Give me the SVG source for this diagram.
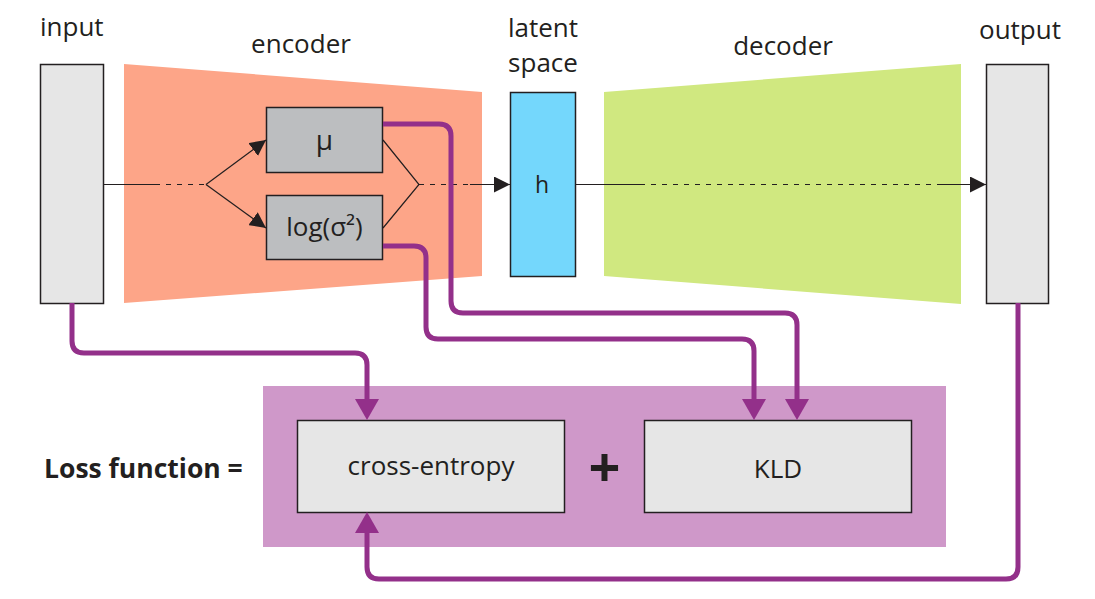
<svg xmlns="http://www.w3.org/2000/svg" width="1095" height="599" viewBox="0 0 1095 599">
<style>
text{font-family:"Open Sans","DejaVu Sans",sans-serif;fill:#231f20;font-size:26px}
.c{text-anchor:middle}
.box{stroke:#231f20;stroke-width:1.5}
.gray{fill:#e6e6e6}
.dark{fill:#bcbec0}
.ln{stroke:#231f20;stroke-width:1.2;fill:none}
.dash{stroke-dasharray:5 6}
.pp{stroke:#93308a;stroke-width:5;fill:none}
</style>
<defs>
<marker id="ab" markerUnits="userSpaceOnUse" markerWidth="16" markerHeight="16" refX="16" refY="8" orient="auto" viewBox="0 0 16 16"><path d="M0,0 L16,8 L0,16 z" fill="#231f20"/></marker>
<marker id="ap" markerUnits="userSpaceOnUse" markerWidth="21" markerHeight="24" refX="0" refY="12" orient="auto" viewBox="0 0 21 24"><path d="M0,0 L21,12 L0,24 z" fill="#93308a"/></marker>
</defs>
<rect width="1095" height="599" fill="#fff"/>
<g id="panel"><rect x="263" y="386" width="683" height="161" fill="#cf98c9"/></g>
<g id="encoder"><polygon points="124,64 482,92 482,276 124,303" fill="#fda588"/><text class="c" x="301" y="53">encoder</text></g>
<g id="decoder"><polygon points="604,92 961,64 961,304 604,276" fill="#d0e880"/><text class="c" x="783" y="55">decoder</text></g>
<g id="input"><rect class="box gray" x="40.5" y="64.5" width="63" height="239"/><text x="40" y="36">input</text></g>
<g id="output"><rect class="box gray" x="986.5" y="64.5" width="62" height="239"/><text class="c" x="1020" y="39">output</text></g>
<g id="latent"><rect class="box" x="510.5" y="92.5" width="65" height="184" fill="#74d7fc"/><text class="c" x="543" y="37">latent</text><text class="c" x="543" y="72">space</text><text class="c" x="542" y="193" style="font-size:23px">h</text></g>
<g id="mu"><rect class="box dark" x="266.5" y="107.5" width="116" height="65"/><text class="c" x="324.5" y="150" style="font-size:28px">μ</text></g>
<g id="logvar"><rect class="box dark" x="266.5" y="195.5" width="116" height="64"/><text class="c" x="324.5" y="236">log(σ²)</text></g>
<g id="crossentropy"><rect class="box gray" x="297.5" y="420.5" width="267" height="92"/><text class="c" x="431" y="475">cross-entropy</text></g>
<g id="kld"><rect class="box gray" x="644.5" y="420.5" width="267" height="92"/><text class="c" x="778" y="478">KLD</text></g>
<g id="plus"><text class="c" x="604.5" y="487" style="font-size:56px;font-weight:bold">+</text></g>
<g id="loss"><text x="44" y="478" style="font-weight:bold;font-size:26.5px">Loss function =</text></g>
<g id="connectors">
<path class="ln" d="M103,184.5 H155"/>
<path class="ln dash" d="M155,184.5 H206"/>
<path class="ln" d="M206,184.5 L266,140" marker-end="url(#ab)"/>
<path class="ln" d="M206,184.5 L266,228" marker-end="url(#ab)"/>
<path class="ln" d="M383,140 L419,184.5 L383,228"/>
<path class="ln dash" d="M419,184.5 H470"/>
<path class="ln" d="M470,184.5 H510" marker-end="url(#ab)"/>
<path class="ln" d="M576,184.5 H640"/>
<path class="ln dash" d="M640,184.5 H937"/>
<path class="ln" d="M937,184.5 H986" marker-end="url(#ab)"/>
<path class="pp" d="M383,124 H439 Q451,124 451,136 V301 Q451,313 463,313 H785 Q797,313 797,325 V399" marker-end="url(#ap)"/>
<path class="pp" d="M383,246 H414 Q426,246 426,258 V327 Q426,339 438,339 H742 Q754,339 754,351 V399" marker-end="url(#ap)"/>
<path class="pp" d="M72,303 V341 Q72,353 84,353 H355 Q367,353 367,365 V399" marker-end="url(#ap)"/>
<path class="pp" d="M1018,303 V567 Q1018,579 1006,579 H379 Q367,579 367,567 V533" marker-end="url(#ap)"/>
</g>
</svg>
